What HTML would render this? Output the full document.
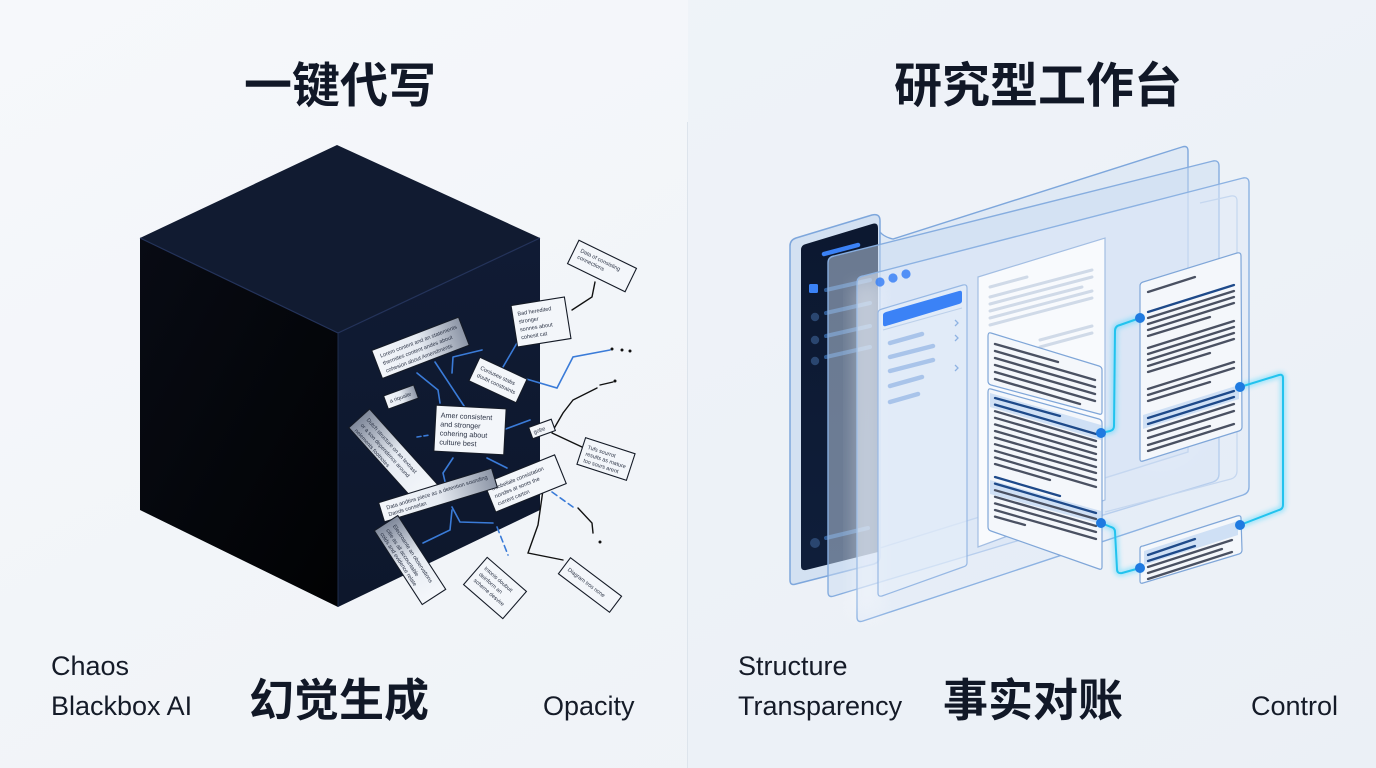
<!DOCTYPE html>
<html><head><meta charset="utf-8"><style>
html,body{margin:0;padding:0;background:#f2f5f9;}
svg{display:block;}
.t{font-family:"Liberation Sans","Noto Sans CJK SC",sans-serif;}
</style></head><body>
<svg width="1376" height="768" viewBox="0 0 1376 768" xmlns="http://www.w3.org/2000/svg">
<defs>
<linearGradient id="bg" x1="0" y1="0" x2="1" y2="1"><stop offset="0" stop-color="#f6f8fb"/><stop offset="1" stop-color="#edf1f6"/></linearGradient>
<linearGradient id="lf" x1="0" y1="0" x2="1" y2="1"><stop offset="0" stop-color="#080b14"/><stop offset="1" stop-color="#010203"/></linearGradient>
<linearGradient id="rf" x1="0" y1="0" x2="0" y2="1"><stop offset="0" stop-color="#101b34"/><stop offset="1" stop-color="#0d172c"/></linearGradient>
<linearGradient id="pf" x1="0" x2="1"><stop offset="0" stop-color="#7f889a"/><stop offset="0.5" stop-color="#e6ebf2"/><stop offset="1" stop-color="#f4f7fb"/></linearGradient>
<linearGradient id="pf2" x1="1" x2="0"><stop offset="0" stop-color="#8c95a6"/><stop offset="0.5" stop-color="#e6ebf2"/><stop offset="1" stop-color="#f4f7fb"/></linearGradient>
<linearGradient id="sb" x1="0" y1="0" x2="0" y2="1"><stop offset="0" stop-color="#0c1830"/><stop offset="1" stop-color="#0f1e3a"/></linearGradient>
<filter id="glow" x="-20%" y="-20%" width="140%" height="140%"><feGaussianBlur stdDeviation="2.5"/></filter>
<filter id="soft" x="-30%" y="-30%" width="160%" height="160%"><feGaussianBlur stdDeviation="8"/></filter>
</defs>

<rect width="1376" height="768" fill="url(#bg)"/>
<rect x="688" y="0" width="688" height="768" fill="#e9eff7" opacity="0.45"/>
<line x1="687.5" y1="122" x2="687.5" y2="768" stroke="#dde4ec" stroke-width="1"/>

<!-- Titles -->
<text class="t" x="340" y="102" font-size="48" font-weight="bold" fill="#111827" text-anchor="middle">一键代写</text>
<text class="t" x="1038" y="102" font-size="48" font-weight="bold" fill="#111827" text-anchor="middle">研究型工作台</text>

<!-- Bottom labels -->
<text class="t" x="51" y="675" font-size="27" fill="#151b28">Chaos</text>
<text class="t" x="51" y="715" font-size="27" fill="#151b28">Blackbox AI</text>
<text class="t" x="339" y="716" font-size="45" font-weight="bold" fill="#111827" text-anchor="middle">幻觉生成</text>
<text class="t" x="543" y="715" font-size="27" fill="#151b28">Opacity</text>
<text class="t" x="738" y="675" font-size="27" fill="#151b28">Structure</text>
<text class="t" x="738" y="715" font-size="27" fill="#151b28">Transparency</text>
<text class="t" x="1033" y="716" font-size="45" font-weight="bold" fill="#111827" text-anchor="middle">事实对账</text>
<text class="t" x="1251" y="715" font-size="27" fill="#151b28">Control</text>

<!-- ================= CUBE ================= -->
<polygon points="337,145 540,238 338,333 140,238" fill="#111b31"/>
<polygon points="140,238 338,333 338,607 140,510" fill="url(#lf)"/>
<polygon points="338,333 540,238 540,510 338,607" fill="url(#rf)"/>
<polyline points="140,238 338,333 540,238" fill="none" stroke="#24335a" stroke-width="1.2"/>
<line x1="338" y1="333" x2="338" y2="607" stroke="#1f2d4d" stroke-width="1"/>

<!-- blue circuit lines on cube -->
<g fill="none" stroke="#3a7bd8" stroke-width="1.6" stroke-linecap="round">
<path d="M435,362 L468,412"/>
<path d="M417,373 L438,390 L440,403"/>
<path d="M453,357 L482,350 M453,357 L452,373"/>
<path d="M503,367 L517,343"/>
<path d="M523,378 L557,388 L573,357 L610,350"/>
<path d="M503,430 L530,420"/>
<path d="M417,437 L430,435" stroke-dasharray="4 3"/>
<path d="M453,458 L443,473 L447,490"/>
<path d="M487,458 L507,468"/>
<path d="M452,507 L460,522 L493,523"/>
<path d="M452,510 L450,530 L423,543"/>
<path d="M497,527 L508,555" stroke-dasharray="6 4"/>
<path d="M552,492 L573,507" stroke-dasharray="6 4"/>
</g>
<!-- black connector lines outside -->
<g fill="none" stroke="#111" stroke-width="1.4" stroke-linecap="round">
<path d="M595,282 L592,297 L572,310"/>
<path d="M552,432 L563,413 L573,400 L597,388"/>
<path d="M600,385 L613,382"/>
<path d="M552,433 L582,447"/>
<path d="M543,490 L538,525 L528,553 L563,560"/>
<path d="M578,508 L592,523 L593,533"/>
</g>
<g fill="#111"><circle cx="612" cy="349" r="1.5"/><circle cx="622" cy="350" r="1.5"/><circle cx="630" cy="351" r="1.5"/><circle cx="600" cy="542" r="1.5"/><circle cx="615" cy="381" r="1.5"/></g>

<!-- papers -->
<g stroke="#141a26" stroke-width="1.1" font-family="Liberation Sans, sans-serif" font-size="5.5" fill="#2b3345">
<g transform="translate(602,266) rotate(26)"><rect x="-32" y="-13" width="64" height="26" fill="#f3f6fa"/><text x="-26" y="-3" stroke="none">Data of consisting</text><text x="-26" y="4" stroke="none">connections</text></g>
<g transform="translate(541,322) rotate(-9)"><rect x="-27" y="-21" width="54" height="42" fill="#f3f6fa"/><text x="-22" y="-10" stroke="none">Bad heredited</text><text x="-22" y="-2" stroke="none">stronger</text><text x="-22" y="6" stroke="none">sonnes about</text><text x="-22" y="14" stroke="none">cohesit cat</text></g>
<g transform="translate(420,348) rotate(-21)"><rect x="-46" y="-15" width="93" height="30" fill="url(#pf2)"/><text x="-40" y="-5" stroke="none">Lorem content and an statements</text><text x="-40" y="3" stroke="none">thermites content andes about</text><text x="-40" y="11" stroke="none">cohesion about Amendments</text></g>
<g transform="translate(401,397) rotate(-20)"><rect x="-16" y="-7" width="32" height="14" fill="url(#pf2)"/><text x="-12" y="2" stroke="none">a riquaite</text></g>
<g transform="translate(394,457) rotate(48)"><rect x="-52" y="-14" width="104" height="28" fill="url(#pf)"/><text x="-46" y="-4" stroke="none">Dutch structure on an textrast</text><text x="-46" y="4" stroke="none">or a son dependence around</text><text x="-46" y="12" stroke="none">nelements footnotes</text></g>
<g transform="translate(498,380) rotate(25)"><rect x="-26" y="-13" width="52" height="26" fill="#f3f6fa"/><text x="-21" y="-2" stroke="none">Coniusee stabs</text><text x="-21" y="6" stroke="none">doubt constraints</text></g>
<g transform="translate(470,430) rotate(3)"><rect x="-35" y="-23" width="70" height="46" fill="#f3f6fa"/><text x="-30" y="-11" stroke="none" font-size="7.2">Amer consistent</text><text x="-30" y="-2" stroke="none" font-size="7.2">and stronger</text><text x="-30" y="7" stroke="none" font-size="7.2">cohering about</text><text x="-30" y="16" stroke="none" font-size="7.2">culture best</text></g>
<g transform="translate(542,429) rotate(-20)"><rect x="-12" y="-6" width="24" height="12" fill="#f3f6fa"/><text x="-9" y="2" stroke="none">gobe</text></g>
<g transform="translate(606,459) rotate(18)"><rect x="-26" y="-14" width="52" height="28" fill="#f3f6fa"/><text x="-21" y="-4" stroke="none">Tufs sourrot</text><text x="-21" y="3" stroke="none">results as mature</text><text x="-21" y="10" stroke="none">too sours arent</text></g>
<g transform="translate(525,483) rotate(-22)"><rect x="-38" y="-15" width="76" height="31" fill="#f3f6fa"/><text x="-33" y="-5" stroke="none">Infobeliale consistation</text><text x="-33" y="3" stroke="none">nondes at sonts the</text><text x="-33" y="11" stroke="none">current carton</text></g>
<g transform="translate(438,495) rotate(-17)"><rect x="-59" y="-10" width="118" height="20" fill="url(#pf2)"/><text x="-53" y="-1" stroke="none">Data andtins piece as a detention sounding</text><text x="-53" y="6" stroke="none">Dands conselan</text></g>
<g transform="translate(410,560) rotate(57)"><rect x="-44" y="-14" width="88" height="28" fill="url(#pf)"/><text x="-38" y="-4" stroke="none">Electroante an observations</text><text x="-38" y="4" stroke="none">citie as all accountable</text><text x="-38" y="11" stroke="none">colds and evidence relate</text></g>
<g transform="translate(495,588) rotate(41)"><rect x="-26" y="-18" width="52" height="36" fill="#f3f6fa"/><text x="-21" y="-7" stroke="none">Intonis doubuit</text><text x="-21" y="1" stroke="none">deinform an</text><text x="-21" y="9" stroke="none">scheme desvire</text></g>
<g transform="translate(590,585) rotate(37)"><rect x="-32" y="-10" width="64" height="20" fill="#f3f6fa"/><text x="-27" y="2" stroke="none">Diagram tros none</text></g>
</g>

<!-- ================= RIGHT SIDE ================= -->
<ellipse cx="1160" cy="380" rx="60" ry="90" fill="#ffffff" opacity="0.5" filter="url(#soft)"/>

<!-- device -->
<path d="M796,238 L872,215 Q880,213 880,221 L880,556 Q880,562 874,564 L796,584 Q790,586 790,580 L790,246 Q790,240 796,238Z" fill="#d3e1f2" stroke="#7ea7dc" stroke-width="1.5"/>
<path d="M806,244 L872,224 Q878,222 878,228 L878,552 L806,570 Q801,571 801,566 L801,250 Q801,245 806,244Z" fill="url(#sb)"/>
<line x1="824" y1="254" x2="858" y2="245" stroke="#3b82f6" stroke-width="4.5" stroke-linecap="round"/>
<rect x="809" y="284" width="9" height="9" rx="1.5" fill="#3b82f6"/>
<g fill="#2a4670"><circle cx="815" cy="317" r="4.2"/><circle cx="815" cy="340" r="4.2"/><circle cx="815" cy="361" r="4.2"/><circle cx="815" cy="543" r="5"/></g>
<g stroke="#2f5a92" stroke-width="4" stroke-linecap="round"><line x1="826" y1="290" x2="870" y2="280"/><line x1="826" y1="313" x2="870" y2="303"/><line x1="826" y1="336" x2="870" y2="326"/><line x1="826" y1="357" x2="870" y2="347"/><line x1="826" y1="538" x2="868" y2="528"/></g>

<!-- back panel A -->
<path d="M880,232 Q884,237 893,239 L1182,147 Q1188,145 1188,151 L1188,452 L880,548 Z" fill="#d6e3f3" fill-opacity="0.6" stroke="#7ea7dc" stroke-width="1.4"/>
<!-- panel B -->
<path d="M834,256 L1213,161 Q1219,160 1219,166 L1219,474 Q1219,480 1213,482 L834,596 Q828,598 828,592 L828,263 Q828,257 834,256Z" fill="#c9dcf2" fill-opacity="0.5" stroke="#86addf" stroke-width="1.4"/>
<!-- panel D inner line -->
<path d="M1200,203 L1231,196 Q1237,195 1237,201 L1237,471 Q1237,477 1231,479 L1105,512" fill="none" stroke="#a4c0e5" stroke-width="1.2"/>
<!-- panel C front -->
<path d="M863,276 L1243,178 Q1249,177 1249,183 L1249,487 Q1249,493 1243,495 L863,621 Q857,623 857,617 L857,283 Q857,277 863,276Z" fill="#e0eaf7" fill-opacity="0.55" stroke="#8cb2e2" stroke-width="1.4"/>
<rect x="852" y="285" width="30" height="330" fill="#ffffff" opacity="0.25" filter="url(#soft)"/>
<g fill="#3b82f6" opacity="0.85"><circle cx="880" cy="282" r="4.6"/><circle cx="893" cy="278" r="4.6"/><circle cx="906" cy="274" r="4.6"/></g>

<!-- menu box -->
<path d="M882,309 L963,285 Q967,284 967,288 L967,563 Q967,566 963,567 L882,596 Q878,597 878,593 L878,313 Q878,310 882,309Z" fill="#e6eef9" fill-opacity="0.55" stroke="#97b8e4" stroke-width="1.2"/>
<path d="M886,312 L959,291 Q962,290 962,293 L962,301 Q962,303 959,304 L886,326 Q883,327 883,324 L883,315 Q883,313 886,312Z" fill="#3b82f6"/>
<line x1="883" y1="330" x2="962" y2="308" stroke="#bcd0ea" stroke-width="1"/>
<g stroke="#a9c4ea" stroke-width="4.5" stroke-linecap="round">
<line x1="890" y1="343" x2="922" y2="334"/><line x1="890" y1="357" x2="933" y2="346"/><line x1="890" y1="371" x2="933" y2="360"/><line x1="890" y1="386" x2="922" y2="377"/><line x1="890" y1="402" x2="918" y2="394"/>
</g>
<g fill="none" stroke="#8fb3e3" stroke-width="1.3"><path d="M955,320 l3,3 l-3,3"/><path d="M955,335 l3,3 l-3,3"/><path d="M955,365 l3,3 l-3,3"/></g>

<!-- main white doc -->
<path d="M978,277 L1105,238 L1105,500 L978,547Z" fill="#f8fafd" stroke="#a3bee3" stroke-width="1.2"/>
<g stroke="#d0dae8" stroke-width="3" stroke-linecap="round">
<line x1="990" y1="287" x2="1027" y2="277"/>
<line x1="990" y1="297" x2="1092" y2="270"/><line x1="990" y1="304" x2="1092" y2="277"/><line x1="990" y1="311" x2="1082" y2="287"/><line x1="990" y1="318" x2="1092" y2="291"/><line x1="990" y1="325" x2="1092" y2="298"/><line x1="1040" y1="340" x2="1092" y2="326"/><line x1="1040" y1="347" x2="1092" y2="333"/>
</g>

<!-- card 1 -->
<path d="M991,333 L1099,366 Q1102,367 1102,370 L1102,412 Q1102,415 1099,414 L991,385 Q988,384 988,381 L988,336 Q988,332 991,333Z" fill="#f4f7fb" stroke="#7fa6d8" stroke-width="1.2"/>
<g stroke="#4a5162" stroke-width="2.4" stroke-linecap="round">
<line x1="995" y1="344" x2="1058" y2="362"/><line x1="995" y1="351" x2="1095" y2="380"/><line x1="995" y1="358" x2="1095" y2="387"/><line x1="995" y1="365" x2="1095" y2="394"/><line x1="995" y1="372" x2="1095" y2="401"/><line x1="995" y1="379" x2="1080" y2="404"/>
</g>

<!-- card 2 -->
<path d="M991,389 L1099,419 Q1102,420 1102,423 L1102,567 Q1102,570 1099,569 L991,531 Q988,530 988,527 L988,392 Q988,388 991,389Z" fill="#f4f7fb" stroke="#7fa6d8" stroke-width="1.2"/>
<polygon points="990,393 1101,425 1101,440 990,407" fill="#cfe0f5"/>
<polygon points="990,480 1101,511 1101,524 990,494" fill="#cfe0f5"/>
<g stroke="#4a5162" stroke-width="2.3" stroke-linecap="round">
<line x1="995" y1="398" x2="1060" y2="416" stroke="#1e4a8a"/>
<line x1="995" y1="404.6" x2="1096" y2="434" stroke="#1e4a8a"/>
<line x1="995" y1="411.2" x2="1096" y2="441"/>
<line x1="995" y1="417.8" x2="1096" y2="447"/>
<line x1="995" y1="424.4" x2="1096" y2="454"/>
<line x1="995" y1="431" x2="1096" y2="460"/>
<line x1="995" y1="437.6" x2="1096" y2="467"/>
<line x1="995" y1="444.2" x2="1096" y2="473"/>
<line x1="995" y1="450.8" x2="1096" y2="480"/>
<line x1="995" y1="457.4" x2="1096" y2="487"/>
<line x1="995" y1="464" x2="1050" y2="480"/>
<line x1="995" y1="477" x2="1060" y2="496" stroke="#1e4a8a"/>
<line x1="995" y1="483.6" x2="1096" y2="513" stroke="#1e4a8a"/>
<line x1="995" y1="490.2" x2="1096" y2="519"/>
<line x1="995" y1="496.8" x2="1096" y2="526"/>
<line x1="995" y1="503.4" x2="1096" y2="532"/>
<line x1="995" y1="510" x2="1096" y2="539"/>
<line x1="995" y1="516.6" x2="1025" y2="525"/>
</g>

<!-- right card -->
<path d="M1143,282 L1237,253 Q1241,252 1241,256 L1242,427 Q1242,430 1239,431 L1143,461 Q1140,462 1140,459 L1140,286 Q1140,283 1143,282Z" fill="#f4f7fb" stroke="#7fa6d8" stroke-width="1.2"/>
<polygon points="1143,415 1239,385 1239,399 1143,429" fill="#cfe0f5"/>
<g stroke="#4a5162" stroke-width="2.3" stroke-linecap="round">
<line x1="1148" y1="292" x2="1195" y2="277"/>
<line x1="1148" y1="312" x2="1234" y2="285" stroke="#1e4a8a"/>
<line x1="1148" y1="318" x2="1234" y2="291"/>
<line x1="1148" y1="324" x2="1234" y2="297"/>
<line x1="1148" y1="330" x2="1234" y2="303"/>
<line x1="1148" y1="336" x2="1210" y2="317"/>
<line x1="1148" y1="348" x2="1234" y2="321"/>
<line x1="1148" y1="354" x2="1234" y2="327"/>
<line x1="1148" y1="360" x2="1234" y2="333"/>
<line x1="1148" y1="366" x2="1234" y2="339"/>
<line x1="1148" y1="372" x2="1210" y2="353"/>
<line x1="1148" y1="389" x2="1234" y2="362"/>
<line x1="1148" y1="395" x2="1234" y2="368"/>
<line x1="1148" y1="401" x2="1210" y2="382"/>
<line x1="1148" y1="418" x2="1234" y2="391" stroke="#1e4a8a"/>
<line x1="1148" y1="424" x2="1234" y2="397" stroke="#1e4a8a"/>
<line x1="1148" y1="431" x2="1234" y2="404"/>
<line x1="1148" y1="438" x2="1234" y2="411"/>
<line x1="1148" y1="445" x2="1210" y2="426"/>
<line x1="1148" y1="451" x2="1234" y2="424"/>
</g>

<!-- bottom card -->
<path d="M1143,546 L1237,516 Q1241,515 1241,518 L1242,550 Q1242,553 1239,554 L1143,583 Q1140,584 1140,581 L1140,549 Q1140,546 1143,546Z" fill="#f4f7fb" stroke="#7fa6d8" stroke-width="1.2"/>
<polygon points="1144,551 1238,521 1238,535 1144,565" fill="#cfe0f5"/>
<g stroke="#4a5162" stroke-width="2.3" stroke-linecap="round">
<line x1="1148" y1="555" x2="1195" y2="539" stroke="#1e4a8a"/>
<line x1="1148" y1="561" x2="1195" y2="546" stroke="#1e4a8a"/>
<line x1="1148" y1="567" x2="1232" y2="540"/>
<line x1="1148" y1="573" x2="1222" y2="549"/>
<line x1="1148" y1="579" x2="1232" y2="552"/>
</g>

<!-- connectors -->
<g fill="none" stroke-linecap="round" stroke-linejoin="round">
<g stroke="#40d4ff" stroke-width="6" opacity="0.45" filter="url(#glow)">
<path d="M1101,433 L1110,431 Q1114,430 1114,426 L1115,331 Q1115,326 1120,325 L1140,318"/>
<path d="M1240,387 L1279,375 Q1283,374 1283,378 L1283,505 Q1283,509 1279,510 L1240,525"/>
<path d="M1101,523 L1111,527 Q1115,528 1115,532 L1117,569 Q1117,574 1122,573 L1140,568"/>
</g>
<g stroke="#22c3ee" stroke-width="2">
<path d="M1101,433 L1110,431 Q1114,430 1114,426 L1115,331 Q1115,326 1120,325 L1140,318"/>
<path d="M1240,387 L1279,375 Q1283,374 1283,378 L1283,505 Q1283,509 1279,510 L1240,525"/>
<path d="M1101,523 L1111,527 Q1115,528 1115,532 L1117,569 Q1117,574 1122,573 L1140,568"/>
</g>
</g>
<g fill="#1f7ae0">
<circle cx="1101" cy="433" r="5"/><circle cx="1140" cy="318" r="5"/><circle cx="1240" cy="387" r="5"/><circle cx="1240" cy="525" r="5"/><circle cx="1101" cy="523" r="5"/><circle cx="1140" cy="568" r="5"/>
</g>
</svg>
</body></html>
